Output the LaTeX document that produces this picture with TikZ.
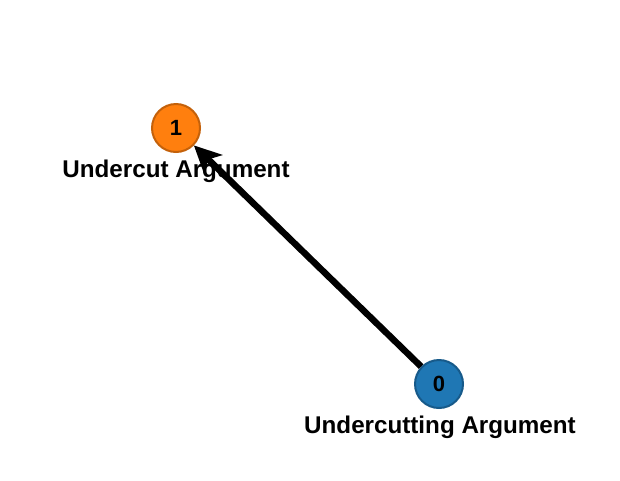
\documentclass[tikz,border=0pt]{standalone}
\usepackage{fontspec}
\setmainfont{Liberation Sans}
\usetikzlibrary{arrows.meta}
\definecolor{orangefill}{HTML}{FF7F0E}
\definecolor{orangeline}{HTML}{C4610A}
\definecolor{bluefill}{HTML}{1F77B4}
\definecolor{blueline}{HTML}{175A8A}
\tikzset{
  argnode/.style={circle, minimum size=48pt, inner sep=0pt, line width=2pt,
    font=\fontsize{22}{24}\selectfont\bfseries},
  arglabel/.style={font=\fontsize{24.2}{28}\selectfont\bfseries, inner sep=0pt},
  attack/.style={line width=6.5pt, -{Stealth[length=27pt, width=26pt, inset=7pt]}}
}
\begin{document}
\begin{tikzpicture}[x=1pt, y=-1pt]
\useasboundingbox (0,0) rectangle (620,480);
\node[arglabel] (l1) at (176,171.5) {Undercut Argument};
\node[arglabel] (l0) at (440,427.5) {Undercutting Argument};
\node[argnode, fill=orangefill, draw=orangeline] (n1) at (176,128) {1};
\node[argnode, fill=bluefill, draw=blueline] (n0) at (439,384) {0};
\draw[attack] (n0) -- (n1);
\end{tikzpicture}
\end{document}
